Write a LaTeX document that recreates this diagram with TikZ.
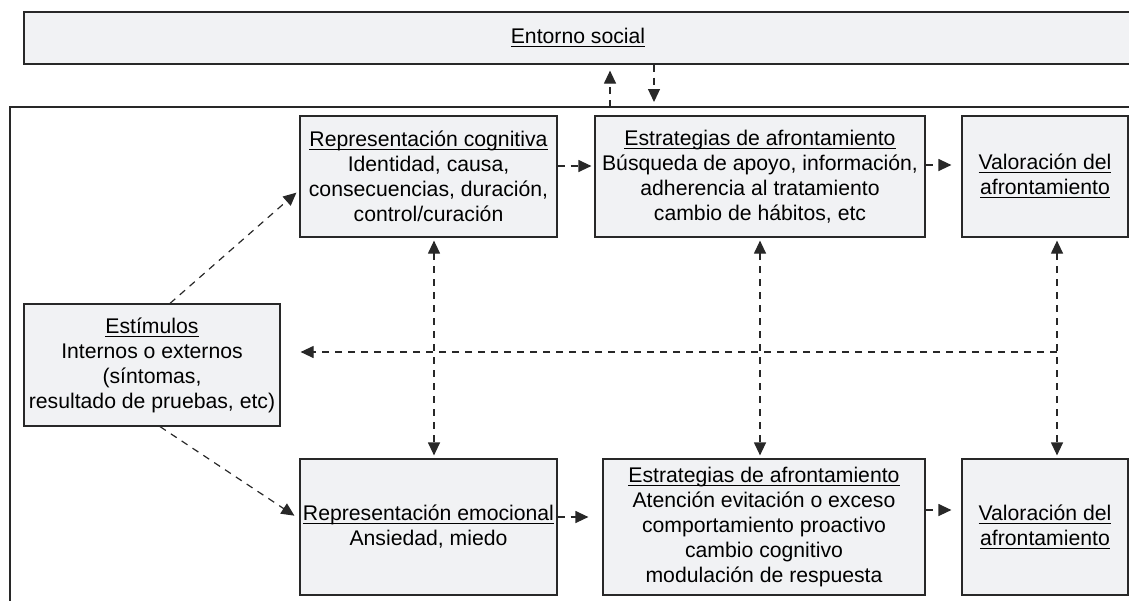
\documentclass[tikz,border=0pt]{standalone}
\usepackage{fontspec}
\setmainfont{Liberation Sans}
\usetikzlibrary{arrows.meta, positioning}
\definecolor{boxgray}{RGB}{241,242,244}
\definecolor{linegray}{RGB}{40,40,40}
\newcommand{\undl}[1]{\underline{\raisebox{0pt}[\height][0pt]{#1}}}

\begin{document}
\begin{tikzpicture}[
        x=0.5pt, y=-0.5pt,
        box/.style={draw=linegray, fill=boxgray, line width=0.6pt, inner sep=0pt, align=center, font=\fontsize{10.6}{12.5}\selectfont},
        flow/.style={draw=linegray, dash pattern=on 3.5pt off 3pt, line width=0.6pt, -{Triangle[length=6.5pt, width=6pt]}},
        both/.style={flow, {Triangle[length=6.5pt, width=6pt]}-{Triangle[length=6.5pt, width=6pt]}}
    ]
    \useasboundingbox (0,0) rectangle (1129,600);
    \clip (0,0) rectangle (1129,600);

    % Frame
    \draw[linegray, line width=0.6pt] (10,640) -- (10,107) -- (1170,107);

    % Nodes
    \node[box, minimum width=554pt, minimum height=26pt] (social) at (578,38) {\undl{Entorno social}};
    \node[box, minimum width=128.5pt, minimum height=60.5pt] (repcog) at (428.5,176.5) {\undl{Representación cognitiva}\\Identidad, causa,\\consecuencias, duración,\\control/curación};
    \node[box, minimum width=165pt, minimum height=60.5pt] (estrA) at (760,176.5) {\undl{Estrategias de afrontamiento}\\Búsqueda de apoyo, información,\\adherencia al tratamiento\\cambio de hábitos, etc};
    \node[box, minimum width=83pt, minimum height=60.5pt] (valA) at (1045,176.5) {\undl{Valoración del}\\\undl{afrontamiento}};
    \node[box, minimum width=128pt, minimum height=61pt] (estim) at (152,365) {\undl{Estímulos}\\Internos o externos\\(síntomas,\\resultado de pruebas, etc)};
    \node[box, minimum width=128.5pt, minimum height=68pt] (repemo) at (428.5,527) {\undl{Representación emocional}\\Ansiedad, miedo};
    \node[box, minimum width=161pt, minimum height=68pt] (estrB) at (764,527) {\undl{Estrategias de afrontamiento}\\Atención evitación o exceso\\comportamiento proactivo\\cambio cognitivo\\modulación de respuesta};
    \node[box, minimum width=83pt, minimum height=68pt] (valB) at (1045,527) {\undl{Valoración del}\\\undl{afrontamiento}};

    \coordinate (upfoot) at (610,107);
    \coordinate (downfoot) at (654,107);
    \coordinate (junc) at (1057,352);

    % Arrows
    \draw[flow, shorten >=3pt] (upfoot) -- (upfoot |- social.south);
    \draw[flow, shorten >=2.5pt] (downfoot |- social.south) -- (downfoot);
    \draw[flow, shorten >=2pt] ([xshift=9pt]estim.north) -- ([yshift=-6.75pt]repcog.west);
    \draw[flow, shorten >=3pt] ([xshift=4pt]estim.south) -- ([yshift=4pt]repemo.west);
    \draw[flow, shorten >=1.5pt] ([yshift=5.25pt]repcog.east) -- ([yshift=5.25pt]estrA.west);
    \draw[flow, shorten >=5pt] ([yshift=5.75pt]estrA.east) -- ([yshift=5.75pt]valA.west);
    \draw[flow, shorten >=7pt] ([yshift=5pt]repemo.east) -- ([yshift=5pt]estrB.west);
    \draw[flow, shorten >=5pt] ([yshift=8.5pt]estrB.east) -- ([yshift=8.5pt]valB.west);
    \draw[both, shorten <=1.5pt, shorten >=1.5pt] ([xshift=2.75pt]repcog.south) -- ([xshift=2.75pt]repemo.north);
    \draw[both, shorten <=1.5pt, shorten >=1.5pt] (estrA.south) -- (estrA.south |- estrB.north);
    \draw[both, shorten <=1.5pt, shorten >=1.5pt] ([xshift=6pt]valA.south) -- ([xshift=6pt]valB.north);
    \draw[flow, shorten >=10pt] (junc) -- (estim.east |- junc);

\end{tikzpicture}
\end{document}
